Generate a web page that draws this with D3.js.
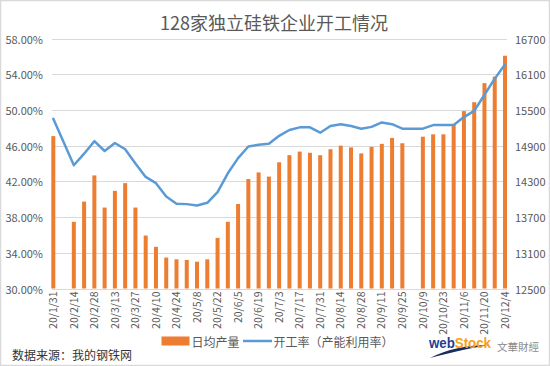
<!DOCTYPE html>
<html lang="zh">
<head>
  <meta charset="UTF-8">
  <title>128家独立硅铁企业开工情况</title>
  <script src="https://d3js.org/d3.v7.min.js"></script>
  <style>
    body {
      margin: 0;
      background: #fff;
    }
    svg text {
      font-family: 'Microsoft YaHei', 'Noto Sans CJK SC', sans-serif;
      fill: #595959;
    }
    .grid line {
      stroke: #d9d9d9;
      shape-rendering: crispEdges;
    }
  </style>
</head>
<body>
  <svg width="550" height="366"></svg>

  <script>
    // weekly dates (2020)
    const dates = ["20/1/31", "20/2/7", "20/2/14", "20/2/21", "20/2/28", "20/3/6", "20/3/13", "20/3/20", "20/3/27",
      "20/4/3", "20/4/10", "20/4/17", "20/4/24", "20/5/1", "20/5/8", "20/5/15", "20/5/22", "20/5/29",
      "20/6/5", "20/6/12", "20/6/19", "20/6/26", "20/7/3", "20/7/10", "20/7/17", "20/7/24", "20/7/31",
      "20/8/7", "20/8/14", "20/8/21", "20/8/28", "20/9/4", "20/9/11", "20/9/18", "20/9/25",
      "20/10/2", "20/10/9", "20/10/16", "20/10/23", "20/10/30", "20/11/6", "20/11/13", "20/11/20",
      "20/11/27", "20/12/4"];

    // 日均产量 (right axis)
    const output = [15060, null, 13620, 13960, 14400, 13860, 14140, 14270, 13860,
      13390, 13200, 13020, 12990, 12980, 12950, 12990, 13350, 13620,
      13920, 14340, 14450, 14380, 14620, 14740, 14800, 14780, 14740,
      14840, 14900, 14870, 14770, 14880, 14930, 15030, 14940,
      null, 15050, 15090, 15090, 15250, 15480, 15630, 15950,
      16060, 16410];

    // 开工率 (%) (left axis)
    const utilisation = [49.0, null, 43.8, 45.1, 46.5, 45.4, 46.3, 45.6, 44.0,
      42.5, 41.8, 40.3, 39.5, 39.45, 39.3, 39.6, 40.8, 42.9,
      44.6, 45.9, 46.1, 46.2, 47.1, 47.75, 48.05, 48.05, 47.45,
      48.2, 48.4, 48.2, 47.9, 48.1, 48.6, 48.4, 47.9,
      47.9, 47.9, 48.3, 48.3, 48.3, 49.2, 49.9, 51.7,
      53.5, 55.1];

    const leftTicks = [30, 34, 38, 42, 46, 50, 54, 58];
    const rightTicks = [12500, 13100, 13700, 14300, 14900, 15500, 16100, 16700];

    const svg = d3.select("svg");
    const plot = { left: 52, right: 507, top: 38.5, bottom: 288.5 };

    // light frame of the chart
    svg.append("rect")
      .attr("x", 0.5).attr("y", 0.5)
      .attr("width", 549).attr("height", 365)
      .attr("fill", "none")
      .attr("stroke", "#d9d9d9")
      .attr("stroke-width", 1.5);

    // title
    svg.append("text")
      .attr("x", 274)
      .attr("y", 21.5)
      .attr("text-anchor", "middle")
      .attr("dominant-baseline", "central")
      .style("font-size", "18px")
      .text("128家独立硅铁企业开工情况");

    const x = d3.scalePoint()
      .domain(dates)
      .range([53.3, 505]);

    const yL = d3.scaleLinear().domain([30, 58]).range([plot.bottom, plot.top]);
    const yR = d3.scaleLinear().domain([12500, 16700]).range([plot.bottom, plot.top]);

    // grid lines
    svg.append("g")
      .attr("class", "grid")
      .attr("transform", `translate(${plot.left},0)`)
      .call(d3.axisLeft(yL).tickValues(leftTicks).tickSize(-(plot.right - plot.left)).tickFormat(""))
      .call(g => g.select(".domain").remove());

    // left axis labels
    svg.append("g")
      .selectAll("text")
      .data(leftTicks)
      .join("text")
      .attr("x", 43)
      .attr("y", d => yL(d))
      .attr("text-anchor", "end")
      .attr("dominant-baseline", "central")
      .style("font-size", "11px")
      .text(d => d.toFixed(2) + "%");

    // right axis labels
    svg.append("g")
      .selectAll("text")
      .data(rightTicks)
      .join("text")
      .attr("x", 515)
      .attr("y", d => yR(d))
      .attr("dominant-baseline", "central")
      .style("font-size", "11px")
      .text(d => d);

    // x labels, every second week
    svg.append("g")
      .selectAll("text")
      .data(dates.filter((d, i) => i % 2 === 0))
      .join("text")
      .attr("transform", d => `translate(${x(d)},${plot.bottom + 3}) rotate(-90)`)
      .attr("text-anchor", "end")
      .attr("dy", "0.35em")
      .style("font-size", "10.5px")
      .text(d => d);

    // bars
    const barW = 4;
    svg.append("g")
      .selectAll("rect")
      .data(dates.map((d, i) => ({ date: d, v: output[i] })).filter(d => d.v != null))
      .join("rect")
      .attr("x", d => x(d.date) - barW / 2)
      .attr("y", d => yR(d.v))
      .attr("width", barW)
      .attr("height", d => plot.bottom - yR(d.v))
      .attr("fill", "#ED7D31");

    // line (gaps connected)
    const linePts = dates.map((d, i) => ({ date: d, v: utilisation[i] })).filter(d => d.v != null);
    svg.append("path")
      .datum(linePts)
      .attr("fill", "none")
      .attr("stroke", "#5B9BD5")
      .attr("stroke-width", 2.5)
      .attr("stroke-linejoin", "round")
      .attr("stroke-linecap", "round")
      .attr("d", d3.line().x(d => x(d.date)).y(d => yL(d.v)));

    // legend
    const lg = svg.append("g");
    lg.append("rect")
      .attr("x", 161.5).attr("y", 336.5)
      .attr("width", 28).attr("height", 9)
      .attr("fill", "#ED7D31");
    lg.append("text")
      .attr("x", 191.5).attr("y", 341)
      .attr("dominant-baseline", "central")
      .style("font-size", "12px")
      .text("日均产量");
    lg.append("line")
      .attr("x1", 243).attr("x2", 272)
      .attr("y1", 341).attr("y2", 341)
      .attr("stroke", "#5B9BD5")
      .attr("stroke-width", 2.5);
    lg.append("text")
      .attr("x", 273.5).attr("y", 341)
      .attr("dominant-baseline", "central")
      .style("font-size", "12px")
      .text("开工率（产能利用率）");

    // source
    svg.append("text")
      .attr("x", 12).attr("y", 354)
      .attr("dominant-baseline", "central")
      .style("font-size", "12px")
      .style("fill", "#333")
      .text("数据来源：我的钢铁网");

    // logo
    const logo = svg.append("g");
    logo.append("path")
      .attr("d", "M430,358 Q455,345 490,345 Q468,348 430,358 Z")
      .attr("fill", "#1b2a5c");
    const lt = logo.append("text")
      .attr("x", 429).attr("y", 348)
      .attr("textLength", 62)
      .attr("lengthAdjust", "spacingAndGlyphs")
      .style("font-size", "14px")
      .style("font-weight", "bold")
      .style("font-family", "Arial, 'Liberation Sans', sans-serif");
    lt.append("tspan").style("fill", "#1f3f94").text("web");
    lt.append("tspan").style("fill", "#f6a01a").text("Stock");
    logo.append("text")
      .attr("x", 497).attr("y", 346)
      .attr("dominant-baseline", "central")
      .style("font-size", "10.5px")
      .style("fill", "#8a8a8a")
      .text("文華財經");
  </script>
</body>
</html>
